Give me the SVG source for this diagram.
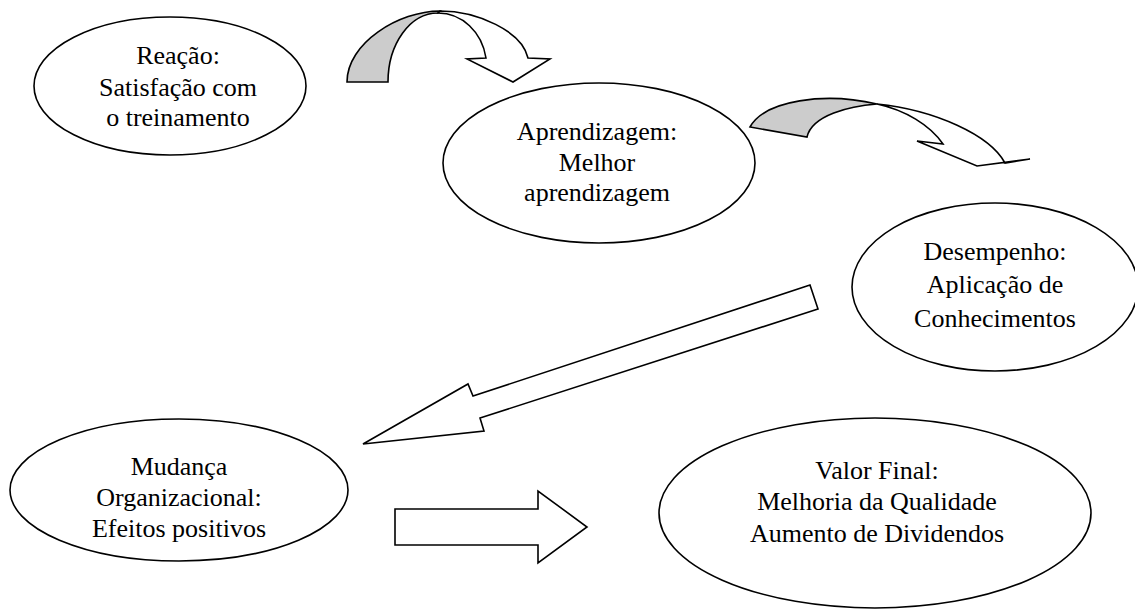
<svg xmlns="http://www.w3.org/2000/svg" width="1135" height="610" viewBox="0 0 1135 610">
<style>
.node ellipse{fill:#fff;stroke:#000;stroke-width:1.6}
.node text{font-family:"Liberation Serif","Times New Roman",serif;font-size:26px;fill:#000;text-anchor:middle}
.conn path,.conn polygon{stroke:#000;stroke-width:1.6;stroke-linejoin:miter}
.white{fill:#fff}
.gray{fill:#cccccc}
</style>
<rect width="1135" height="610" fill="#fff"/>
<g id="connectors" class="conn">
  <!-- curved arrow 1 -->
  <path class="gray" d="M347,82 C347,43 399,11 440,11 L438,13 C410,13 388,44 388,82 Z"/>
  <path class="white" d="M438,13 L440,11 C477,11 522,31 528,58 L550,59 L513,82 L467,59 L486,58 C482,32 462,13 438,13 Z"/>
  <!-- curved arrow 2 -->
  <path class="gray" d="M750,127 C765,100 825,92 877,104 C850,106 812,115 807,137 Z"/>
  <path class="white" d="M877,104 C935,110 990,135 1005,163 L1030,159 L977,166 L917,141 L943,144 C930,125 905,110 877,104 Z"/>
  <!-- diagonal block arrow -->
  <polygon class="white" points="810,285 818,309 480,418 484,431 363,444 468,384 473,396"/>
  <!-- right block arrow -->
  <polygon class="white" points="395,509 538,509 538,491 587,527 538,563 538,545 395,545"/>
</g>
<g id="reacao" class="node">
  <ellipse cx="170" cy="86" rx="136" ry="69"/>
  <text x="178" y="64">Reação:</text>
  <text x="178" y="96">Satisfação com</text>
  <text x="178" y="126">o treinamento</text>
</g>
<g id="aprendizagem" class="node">
  <ellipse cx="599" cy="163" rx="156" ry="80"/>
  <text x="597" y="140">Aprendizagem:</text>
  <text x="597" y="171">Melhor</text>
  <text x="597" y="201">aprendizagem</text>
</g>
<g id="desempenho" class="node">
  <ellipse cx="995" cy="287" rx="143" ry="84"/>
  <text x="995" y="260">Desempenho:</text>
  <text x="995" y="293">Aplicação de</text>
  <text x="995" y="327">Conhecimentos</text>
</g>
<g id="mudanca" class="node">
  <ellipse cx="179" cy="490" rx="169" ry="71"/>
  <text x="179" y="475">Mudança</text>
  <text x="179" y="506">Organizacional:</text>
  <text x="179" y="537">Efeitos positivos</text>
</g>
<g id="valor" class="node">
  <ellipse cx="875" cy="513" rx="216" ry="95"/>
  <text x="877" y="479">Valor Final:</text>
  <text x="877" y="510">Melhoria da Qualidade</text>
  <text x="877" y="542">Aumento de Dividendos</text>
</g>
</svg>
